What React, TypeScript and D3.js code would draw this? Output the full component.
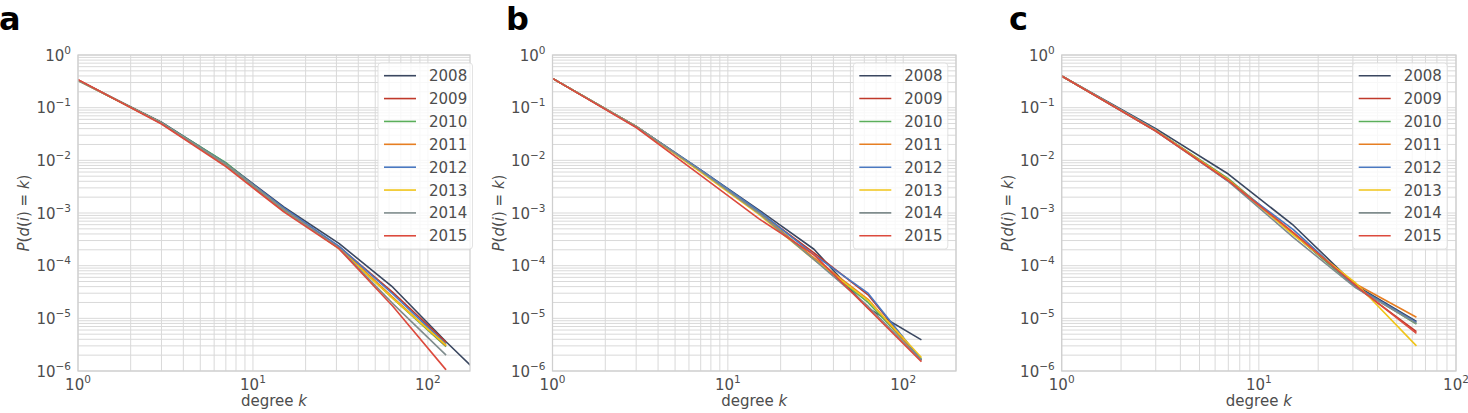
import React from 'react';
import * as d3 from 'd3';

const YEARS = ['2008', '2009', '2010', '2011', '2012', '2013', '2014', '2015'];
const COLORS = ['#3a4760', '#c0392b', '#5aae5a', '#e67e22', '#4a78c0', '#f0c419', '#7f8c8d', '#dc4a3d'];

// degree bins per panel
const DEG_A = [1, 3, 7, 15, 31, 63, 127, 255];
const DEG_B = [1, 3, 7, 15, 31, 63, 127];
const DEG_C = [1, 3, 7, 15, 31, 63];

// P(d(i)=k), one row per year (2008..2015)
const PANEL_A: number[][] = [
  [0.33, 0.053, 0.0088, 1.3e-3, 2.65e-4, 3.9e-5, 3.6e-6, 3.8e-7],
  [0.34, 0.05, 0.008, 1.1e-3, 2.3e-4, 3.1e-5, 3.5e-6],
  [0.33, 0.052, 0.009, 1.15e-3, 2.2e-4, 2.4e-5, 2.9e-6],
  [0.33, 0.051, 0.0085, 1.2e-3, 2.25e-4, 2.5e-5, 3.0e-6],
  [0.33, 0.052, 0.0086, 1.25e-3, 2.35e-4, 2.9e-5, 3.2e-6],
  [0.33, 0.051, 0.0083, 1.15e-3, 2.1e-4, 2.4e-5, 3.1e-6],
  [0.33, 0.051, 0.0083, 1.15e-3, 2.15e-4, 1.9e-5, 2.0e-6],
  [0.34, 0.049, 0.0076, 1.05e-3, 2.1e-4, 1.7e-5, 1.05e-6],
];

const PANEL_B: number[][] = [
  [0.36, 0.044, 0.0066, 1.15e-3, 2.05e-4, 1.55e-5, 3.9e-6],
  [0.36, 0.043, 0.0062, 1.05e-3, 1.75e-4, 2.8e-5, 1.6e-6],
  [0.36, 0.044, 0.0064, 1.05e-3, 1.35e-4, 2.0e-5, 1.7e-6],
  [0.36, 0.044, 0.0063, 1.0e-3, 1.4e-4, 2.3e-5, 1.6e-6],
  [0.36, 0.044, 0.0066, 1.1e-3, 1.6e-4, 3.0e-5, 1.6e-6],
  [0.36, 0.044, 0.006, 9.5e-4, 1.3e-4, 2.2e-5, 1.8e-6],
  [0.36, 0.044, 0.0063, 1.0e-3, 1.3e-4, 1.7e-5, 1.6e-6],
  [0.36, 0.042, 0.0052, 7.8e-4, 1.6e-4, 1.55e-5, 1.5e-6],
];

const PANEL_C: number[][] = [
  [0.4, 0.04, 0.0055, 5.8e-4, 4.2e-5, 8.7e-6],
  [0.4, 0.036, 0.0042, 4.0e-4, 4.0e-5, 5.6e-6],
  [0.4, 0.037, 0.0045, 4.0e-4, 4.0e-5, 7.8e-6],
  [0.4, 0.037, 0.0043, 4.2e-4, 4.5e-5, 1.05e-5],
  [0.4, 0.038, 0.004, 4.8e-4, 4.0e-5, 8.4e-6],
  [0.4, 0.037, 0.0042, 3.8e-4, 4.7e-5, 3.0e-6],
  [0.4, 0.036, 0.004, 3.4e-4, 3.8e-5, 8.0e-6],
  [0.4, 0.036, 0.0041, 4.2e-4, 4.2e-5, 5.2e-6],
];

const Y_DOMAIN: [number, number] = [1e-6, 1];
const Y_EXPONENTS = [0, -1, -2, -3, -4, -5, -6];
const X_EXPONENTS = [0, 1, 2];

const FONT = '"DejaVu Sans", sans-serif';
const TEXT = '#4d4d4d';
const GRID = '#d9d9d9';

type PanelProps = {
  id: string;
  label: string;
  labelX: number;
  left: number;
  right: number;
  xMax: number;
  legendX: number;
  degrees: number[];
  data: number[][];
};

const TOP = 55;
const BOTTOM = 371;

function Sup({ base, exp, ...rest }: any) {
  return (
    <text {...rest}>
      {base}
      <tspan dy={-7} fontSize={10.5}>{exp}</tspan>
    </text>
  );
}

function Panel({ id, label, labelX, left, right, xMax, legendX, degrees, data }: PanelProps) {
  const x = d3.scaleLog().domain([1, xMax]).range([left, right]);
  const y = d3.scaleLog().domain(Y_DOMAIN).range([BOTTOM, TOP]);

  const yGrid: number[] = [];
  for (let e = -6; e < 0; e++) for (let m = 1; m <= 9; m++) yGrid.push(m * Math.pow(10, e));
  yGrid.push(1);
  const xGrid: number[] = [];
  for (let e = 0; e < 3; e++) for (let m = 1; m <= 9; m++) {
    const v = m * Math.pow(10, e);
    if (v <= xMax) xGrid.push(v);
  }

  const line = d3.line<[number, number]>().x(d => x(d[0])).y(d => y(d[1]));
  const clipId = `clip-${id}`;
  const legendW = 94.5;
  const rowH = 22.87;
  const legendTop = 63;

  return (
    <g fontFamily={FONT} fill={TEXT}>
      <defs>
        <clipPath id={clipId}>
          <rect x={left} y={TOP} width={right - left} height={BOTTOM - TOP} />
        </clipPath>
      </defs>
      <text x={labelX} y={30} fontSize={32} fontWeight="bold" fill="#000">{label}</text>
      <rect x={left} y={TOP} width={right - left} height={BOTTOM - TOP} fill="#fff" />
      {yGrid.map((v, i) => (
        <line key={'y' + i} x1={left} x2={right} y1={y(v)} y2={y(v)} stroke={GRID} strokeWidth={1} />
      ))}
      {xGrid.map((v, i) => (
        <line key={'x' + i} x1={x(v)} x2={x(v)} y1={TOP} y2={BOTTOM} stroke={GRID} strokeWidth={1} />
      ))}
      <g clipPath={`url(#${clipId})`}>
        {data.map((vals, si) => (
          <path
            key={si}
            d={line(vals.map((p, i) => [degrees[i], p] as [number, number])) || ''}
            fill="none"
            stroke={COLORS[si]}
            strokeWidth={1.6}
            strokeLinejoin="round"
          />
        ))}
      </g>
      <rect x={left} y={TOP} width={right - left} height={BOTTOM - TOP} fill="none" stroke="#cfcfcf" strokeWidth={1.25} />
      {Y_EXPONENTS.map(e => (
        <Sup key={'yt' + e} base="10" exp={e === 0 ? '0' : '\u2212' + Math.abs(e)}
          x={left - 7} y={y(Math.pow(10, e)) + 5.5} fontSize={15} textAnchor="end" />
      ))}
      {X_EXPONENTS.filter(e => Math.pow(10, e) <= xMax * 1.001).map(e => (
        <Sup key={'xt' + e} base="10" exp={String(e)}
          x={x(Math.pow(10, e))} y={390} fontSize={15} textAnchor="middle" />
      ))}
      <text x={(left + right) / 2} y={406} fontSize={15} textAnchor="middle">
        degree <tspan fontStyle="italic">k</tspan>
      </text>
      <text
        transform={`translate(${left - 49},${(TOP + BOTTOM) / 2}) rotate(-90)`}
        fontSize={15}
        textAnchor="middle"
      >
        <tspan fontStyle="italic">P</tspan>(<tspan fontStyle="italic">d</tspan>(<tspan fontStyle="italic">i</tspan>) = <tspan fontStyle="italic">k</tspan>)
      </text>
      <rect x={legendX} y={legendTop} width={legendW} height={186} rx={3}
        fill="#fff" fillOpacity={0.8} stroke="#dcdcdc" strokeOpacity={0.8} />
      {YEARS.map((yr, i) => {
        const cy = legendTop + 12.7 + i * rowH;
        return (
          <g key={yr}>
            <line x1={legendX + 6} x2={legendX + 38} y1={cy} y2={cy} stroke={COLORS[i]} strokeWidth={1.6} />
            <text x={legendX + 51} y={cy + 5.5} fontSize={15}>{yr}</text>
          </g>
        );
      })}
    </g>
  );
}

export default function App() {
  return (
    <svg width={1468} height={413} style={{ position: 'absolute', left: 0, top: 0, background: '#fff' }}>
      <rect x={0} y={0} width={1468} height={413} fill="#fff" />
      <Panel id="a" label="a" labelX={-1} left={78} right={470} xMax={174} legendX={378}
        degrees={DEG_A} data={PANEL_A} />
      <Panel id="b" label="b" labelX={506} left={552.5} right={956} xMax={200} legendX={853.3}
        degrees={DEG_B} data={PANEL_B} />
      <Panel id="c" label="c" labelX={1009} left={1061.7} right={1456} xMax={100} legendX={1352.7}
        degrees={DEG_C} data={PANEL_C} />
    </svg>
  );
}
